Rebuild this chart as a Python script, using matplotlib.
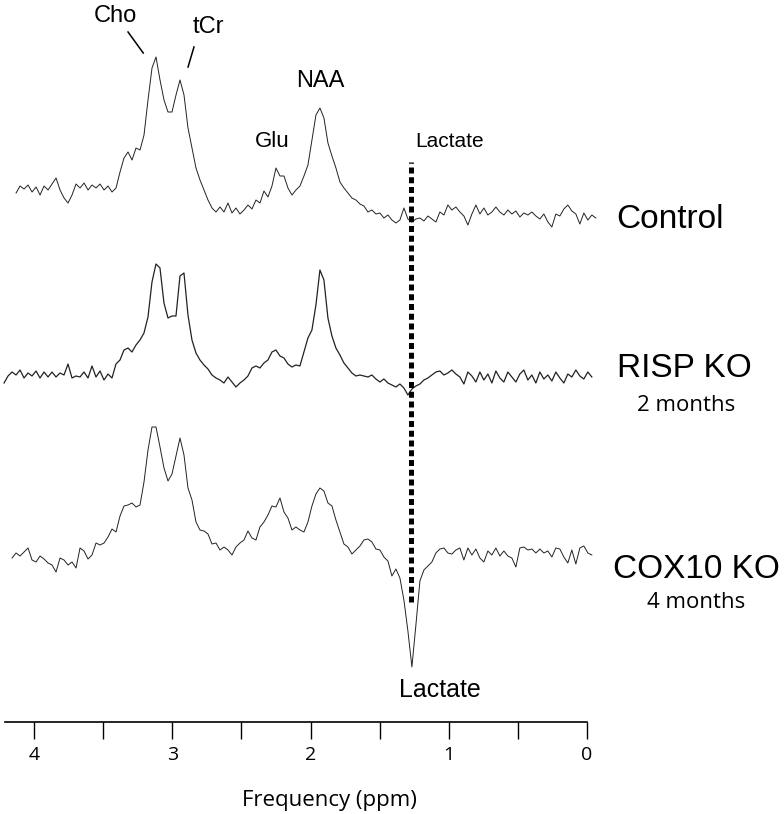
import numpy as np
import matplotlib.pyplot as plt

# Spectral data (intensity in arbitrary units, up = positive)
control_ppm_range = (4.130, -0.064)
control_vals = [27, 34, 31, 35, 28, 33, 25, 34, 30, 36, 42, 30, 22, 17, 25, 36, 32, 37, 30, 35,
                32, 36, 30, 34, 28, 32, 48, 62, 68, 60, 72, 70, 85, 120, 152, 163, 140, 120, 108, 108,
                125, 140, 125, 92, 72, 52, 40, 30, 20, 12, 8, 13, 8, 17, 7, 12, 6, 10, 15, 11,
                20, 17, 29, 23, 34, 52, 44, 44, 32, 25, 30, 34, 44, 55, 80, 105, 112, 102, 77, 64,
                52, 38, 32, 27, 22, 20, 16, 14, 8, 10, 6, 7, 2, 5, 0, -3, 0, 12, 1, -2,
                1, 2, -1, 4, 1, -2, 8, 5, 15, 10, 13, 8, 4, -5, 6, 15, 6, 12, 5, 8,
                13, 8, 5, 10, 6, 9, 3, 7, 5, 8, 4, 1, 6, -2, -7, 6, 4, 11, 15, 9,
                6, -4, 7, 0, 5, 2]

risp_ppm_range = (4.217, -0.035)
risp_vals = [-3, 4, 8, 5, 10, 2, 7, 4, 9, 2, 8, 3, 8, 3, 7, 5, 16, 2, 4, 3,
             8, 2, 14, 3, 9, 0, 6, 2, 16, 20, 30, 32, 28, 35, 40, 47, 63, 98, 116, 112,
             77, 62, 64, 64, 104, 107, 65, 40, 27, 20, 15, 11, 5, 2, 0, -3, 3, -2, -7, -3,
             0, 4, 12, 14, 12, 17, 20, 28, 30, 24, 22, 16, 13, 15, 14, 28, 42, 50, 75, 110,
             100, 62, 44, 32, 25, 17, 12, 7, 4, 5, 4, 3, 5, 1, -2, 1, -3, -5, -7, -4,
             -8, -15, -9, -6, -4, 0, 2, 5, 8, 9, 5, 7, 10, 6, 3, -4, 8, 4, -2, 8,
             0, 6, -3, 9, 2, -2, 8, 3, -2, 6, 10, 0, 5, -3, 8, 1, 5, -1, 8, 2,
             -3, 6, 3, 10, 4, 1, 8, 3]

cox10_ppm_range = (4.159, -0.035)
cox10_vals = [2, 7, 4, 8, 12, 0, -2, 4, 1, -3, -5, -12, 2, 0, -5, -2, -8, 12, 9, 1,
              5, 17, 15, 17, 23, 31, 28, 44, 54, 55, 57, 53, 55, 78, 110, 133, 133, 113, 92, 79,
              86, 104, 122, 105, 72, 60, 38, 30, 29, 26, 16, 17, 10, 13, 10, 5, 13, 17, 20, 29,
              22, 20, 33, 38, 45, 54, 53, 62, 48, 42, 30, 33, 30, 28, 38, 54, 66, 72, 69, 57,
              54, 40, 28, 16, 13, 6, 10, 14, 20, 21, 18, 11, 10, 3, -1, -16, -9, -18, -40, -71,
              -107, -65, -21, -10, -6, -2, 7, 11, 12, 7, 6, 10, 12, 0, 12, 5, 11, 2, -2, 9,
              5, 12, 4, 9, 4, 2, -7, 12, 13, 10, 11, 7, 11, 7, 9, 3, 12, 11, 3, -3,
              10, -4, 12, 14, 7, 5]

offsets = {"Control": 502, "RISP": 342, "COX10": 162}
ticks_major = [0, 1, 2, 3, 4]
ticks_minor = [0.5, 1.5, 2.5, 3.5]
lactate_ppm = 1.27

fig = plt.figure(figsize=(7.84, 8.14), dpi=100)
ax = fig.add_axes([5 / 784, 92 / 814, 582 / 784, 722 / 814])
ax.set_xlim(4.21, 0)
ax.set_ylim(0, 722)

traces = [(control_ppm_range, control_vals, offsets["Control"], 0.7),
          (risp_ppm_range, risp_vals, offsets["RISP"], 0.9),
          (cox10_ppm_range, cox10_vals, offsets["COX10"], 0.7)]
for (start, stop), vals, off, lw in traces:
    ppm = np.linspace(start, stop, len(vals))
    ax.plot(ppm, np.array(vals) + off, color="#222222", lw=lw, clip_on=False)

# lactate marker
ax.plot([lactate_ppm, lactate_ppm], [120, 560], color="black", lw=3.6,
        linestyle=(0, (1.2, 0.75)), dash_capstyle="butt", clip_on=False)

arial = "Liberation Sans"
myriad = "Open Sans"
ax.text(3.414, 700, "Cho", ha="center", va="baseline", fontsize=17, family=arial)
ax.text(2.742, 689, "tCr", ha="center", va="baseline", fontsize=17, family=arial)
ax.plot([3.32, 3.21], [690, 669], color="black", lw=1.1)
ax.plot([2.843, 2.886], [675, 655], color="black", lw=1.1)
ax.text(1.932, 635, "NAA", ha="center", va="baseline", fontsize=17, family=arial)
ax.text(2.279, 575, "Glu", ha="center", va="baseline", fontsize=16, family=arial)
ax.text(0.992, 575, "Lactate", ha="center", va="baseline", fontsize=15, family=arial)
ax.text(1.064, 25, "Lactate", ha="center", va="baseline", fontsize=18, family=arial)

ax.text(-0.597, 494, "Control", ha="center", va="baseline", fontsize=24, family=arial, clip_on=False)
ax.text(-0.705, 345, "RISP KO", ha="center", va="baseline", fontsize=24, family=arial, clip_on=False)
ax.text(-0.72, 311, "2 months", ha="center", va="baseline", fontsize=16, family=myriad, clip_on=False)
ax.text(-0.79, 144, "COX10 KO", ha="center", va="baseline", fontsize=24, family=arial, clip_on=False)
ax.text(-0.79, 114, "4 months", ha="center", va="baseline", fontsize=16, family=myriad, clip_on=False)

for s in ["left", "right", "top"]:
    ax.spines[s].set_visible(False)
ax.spines["bottom"].set_linewidth(1.2)
ax.set_yticks([])
ax.set_xticks(ticks_major)
ax.set_xticks(ticks_minor, minor=True)
ax.set_xticklabels([str(t) for t in ticks_major], fontsize=14, family=myriad)
ax.tick_params(axis="x", which="both", direction="out", length=12, width=1.0, pad=5)

fig.text(329 / 784, 8 / 814, "Frequency (ppm)", ha="center", va="baseline", fontsize=16, family=myriad)

fig.savefig("out.png", dpi=100)
